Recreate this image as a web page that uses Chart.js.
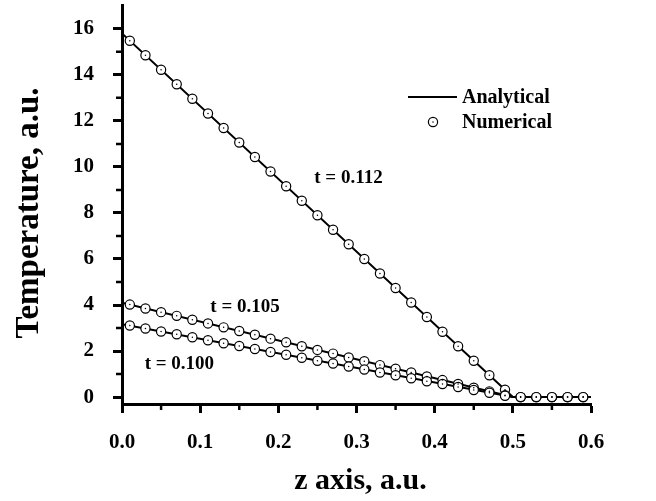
<!DOCTYPE html>
<html>
<head>
<meta charset="utf-8">
<title>Temperature profiles</title>
<script src="https://cdn.jsdelivr.net/npm/chart.js@4.4.1/dist/chart.umd.min.js"></script>
<style>
  html, body { margin: 0; padding: 0; background: #ffffff; }
  #wrap { width: 656px; height: 501px; }
</style>
</head>
<body>
<div id="wrap"><canvas id="chart" width="656" height="501"></canvas></div>
<script>
// ---- data -------------------------------------------------------------
// Sampling nodes of the numerical solution along z
const zNodes = [0.01, 0.03, 0.05, 0.07, 0.09, 0.11, 0.13, 0.15, 0.17, 0.19,
                0.21, 0.23, 0.25, 0.27, 0.29, 0.31, 0.33, 0.35, 0.37, 0.39,
                0.41, 0.43, 0.45, 0.47, 0.49, 0.51, 0.53, 0.55, 0.57, 0.59];

// Numerical temperatures at each node
const numT100 = [3.11, 2.98, 2.85, 2.73, 2.60, 2.47, 2.34, 2.22, 2.09, 1.96,
                 1.84, 1.71, 1.58, 1.46, 1.33, 1.20, 1.07, 0.95, 0.82, 0.69,
                 0.57, 0.44, 0.31, 0.19, 0.06, 0, 0, 0, 0, 0];
const numT105 = [4.02, 3.85, 3.69, 3.53, 3.36, 3.20, 3.03, 2.87, 2.71, 2.54,
                 2.38, 2.21, 2.05, 1.89, 1.72, 1.56, 1.39, 1.23, 1.07, 0.90,
                 0.74, 0.57, 0.41, 0.25, 0.08, 0, 0, 0, 0, 0];
const numT112 = [15.48, 14.85, 14.22, 13.59, 12.96, 12.32, 11.69, 11.06, 10.43, 9.80,
                 9.16, 8.53, 7.90, 7.27, 6.64, 6.00, 5.37, 4.74, 4.11, 3.48,
                 2.84, 2.21, 1.58, 0.95, 0.32, 0, 0, 0, 0, 0];

// Analytical profiles: vertices of the piecewise-linear solutions
const anaZ    = [0, 0.5, 0.6];
const anaT100 = [3.17, 0, 0];
const anaT105 = [4.10, 0, 0];
const anaT112 = [15.80, 0, 0];

// Axis ticks
const xTicks      = [0, 0.1, 0.2, 0.3, 0.4, 0.5, 0.6];
const xTickLabels = ['0.0', '0.1', '0.2', '0.3', '0.4', '0.5', '0.6'];
const xMinorTicks = [0.05, 0.15, 0.25, 0.35, 0.45, 0.55];
const yTicks      = [0, 2, 4, 6, 8, 10, 12, 14, 16];
const yTickLabels = ['0', '2', '4', '6', '8', '10', '12', '14', '16'];
const yMinorTicks = [1, 3, 5, 7, 9, 11, 13, 15];

// Curve names and legend entries
const curveNames   = ['t = 0.100', 't = 0.105', 't = 0.112'];
const legendLabels = ['Analytical', 'Numerical'];
const xTitle = 'z axis, a.u.';
const yTitle = 'Temperature, a.u.';

// ---- styling / placement ---------------------------------------------
const FONT = '"Liberation Serif", "Times New Roman", serif';
const INK = '#000000';
const MARK_R = 4.6;

// Where each curve name is written, in axis units (left edge, middle line)
const namePlacement = [
  { z: 0.029, v: 1.45 },
  { z: 0.113, v: 3.90 },
  { z: 0.246, v: 9.50 }
];

const toPoints = (xs, ys) => xs.map((x, i) => ({ x: x, y: ys[i] }));

function analyticalSet(ys) {
  return {
    data: toPoints(anaZ, ys),
    showLine: true,
    borderColor: INK,
    borderWidth: 2,
    pointRadius: 0,
    tension: 0,
    order: 2,
    isNumerical: false
  };
}
function numericalSet(ys) {
  return {
    data: toPoints(zNodes, ys),
    showLine: false,
    pointStyle: 'circle',
    pointRadius: MARK_R,
    pointBorderWidth: 1.2,
    pointBorderColor: INK,
    pointBackgroundColor: '#ffffff',
    order: 1,
    isNumerical: true
  };
}

// Centre dot of every open-circle sample marker
const markerDots = {
  id: 'markerDots',
  afterDatasetsDraw(chart) {
    const ctx = chart.ctx;
    ctx.save();
    ctx.fillStyle = INK;
    chart.data.datasets.forEach((ds, i) => {
      if (!ds.isNumerical) return;
      chart.getDatasetMeta(i).data.forEach(pt => {
        ctx.beginPath();
        ctx.arc(pt.x, pt.y, 0.75, 0, Math.PI * 2);
        ctx.fill();
      });
    });
    ctx.restore();
  }
};

// Minor ticks, axis titles, curve names and the legend box
const decorations = {
  id: 'decorations',
  afterDraw(chart) {
    const { ctx, scales: { x, y }, chartArea: a } = chart;
    ctx.save();
    ctx.strokeStyle = INK;
    ctx.lineWidth = 2.5;
    ctx.beginPath();
    xMinorTicks.forEach(v => {
      const px = x.getPixelForValue(v);
      ctx.moveTo(px, a.bottom);
      ctx.lineTo(px, a.bottom + 6);
    });
    yMinorTicks.forEach(v => {
      const py = y.getPixelForValue(v);
      ctx.moveTo(a.left, py);
      ctx.lineTo(a.left - 6, py);
    });
    ctx.stroke();

    ctx.fillStyle = INK;

    // axis titles
    ctx.font = 'bold 30px ' + FONT;
    ctx.textAlign = 'center';
    ctx.textBaseline = 'alphabetic';
    ctx.fillText(xTitle, (a.left + a.right) / 2 + 4, 489);

    ctx.save();
    ctx.translate(38, 213);
    ctx.rotate(-Math.PI / 2);
    ctx.font = 'bold 33px ' + FONT;
    ctx.fillText(yTitle, 0, 0);
    ctx.restore();

    // curve names
    ctx.font = 'bold 19px ' + FONT;
    ctx.textAlign = 'left';
    ctx.textBaseline = 'middle';
    curveNames.forEach((t, i) => {
      const p = namePlacement[i];
      ctx.fillText(t, x.getPixelForValue(p.z), y.getPixelForValue(p.v));
    });

    // legend
    ctx.font = 'bold 20px ' + FONT;
    ctx.lineWidth = 2;
    ctx.beginPath();
    ctx.moveTo(408, 97);
    ctx.lineTo(457, 97);
    ctx.stroke();
    ctx.fillText(legendLabels[0], 462, 98);

    ctx.beginPath();
    ctx.arc(433, 122, MARK_R, 0, Math.PI * 2);
    ctx.fillStyle = '#ffffff';
    ctx.fill();
    ctx.lineWidth = 1.2;
    ctx.stroke();
    ctx.fillStyle = INK;
    ctx.beginPath();
    ctx.arc(433, 122, 0.75, 0, Math.PI * 2);
    ctx.fill();
    ctx.fillText(legendLabels[1], 462, 123);
    ctx.restore();
  }
};

const tickFont = { family: FONT, size: 21, weight: 'bold' };

new Chart(document.getElementById('chart'), {
  type: 'scatter',
  data: {
    datasets: [
      analyticalSet(anaT100),
      analyticalSet(anaT105),
      analyticalSet(anaT112),
      numericalSet(numT100),
      numericalSet(numT105),
      numericalSet(numT112)
    ]
  },
  options: {
    responsive: false,
    animation: false,
    devicePixelRatio: 1,
    layout: { padding: { left: 0, right: 65, top: 4, bottom: 0 } },
    plugins: { legend: { display: false }, tooltip: { enabled: false } },
    scales: {
      x: {
        type: 'linear',
        min: 0,
        max: 0.6,
        afterBuildTicks: s => { s.ticks = xTicks.map(v => ({ value: v })); },
        afterFit: s => { s.height = 97; s.paddingLeft = 0; s.paddingRight = 0; },
        ticks: {
          callback: (v, i) => xTickLabels[i],
          font: tickFont,
          color: INK,
          padding: 17,
          maxRotation: 0,
          autoSkip: false
        },
        grid: { drawOnChartArea: false, drawTicks: true, tickLength: 9, tickWidth: 3, tickColor: INK },
        border: { display: true, color: INK, width: 3 }
      },
      y: {
        type: 'linear',
        min: -0.3,
        max: 17,
        afterBuildTicks: s => { s.ticks = yTicks.map(v => ({ value: v })); },
        afterFit: s => { s.width = 122; s.paddingTop = 0; s.paddingBottom = 0; },
        ticks: {
          callback: (v, i) => yTickLabels[i],
          font: tickFont,
          color: INK,
          padding: 19,
          autoSkip: false
        },
        grid: { drawOnChartArea: false, drawTicks: true, tickLength: 9, tickWidth: 3, tickColor: INK },
        border: { display: true, color: INK, width: 3 }
      }
    }
  },
  plugins: [markerDots, decorations]
});
</script>
</body>
</html>
